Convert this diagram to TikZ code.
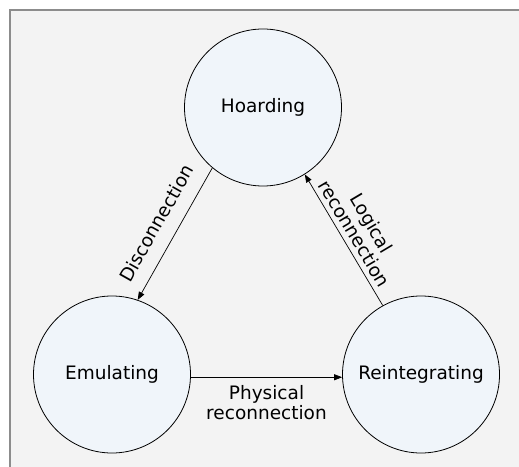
\documentclass[tikz,border=0pt]{standalone}
\usepackage{fontspec}
\setmainfont{DejaVu Sans}
\usetikzlibrary{arrows.meta}
\definecolor{framegray}{HTML}{8C8C8C}
\definecolor{panel}{HTML}{F3F3F3}
\definecolor{statefill}{HTML}{F0F5FA}
\begin{document}
\begin{tikzpicture}[x=1pt,y=1pt,
	state/.style={draw=black, line width=0.8pt, circle, fill=statefill, minimum size=157pt, inner sep=0pt, font=\fontsize{18.5pt}{20pt}\selectfont},
	link/.style={line width=0.7pt, -{Triangle[length=8pt,width=6pt]}},
	lbl/.style={font=\fontsize{18.5pt}{20pt}\selectfont, align=center, inner sep=3pt}]
	\useasboundingbox (0,0) rectangle (519,466);
	\clip (0,0) rectangle (519,466);
	\fill[white] (0,0) rectangle (519,466);
	\draw[framegray, line width=2pt, fill=panel] (10,-10) rectangle (530,456);
	\node[state] (hoard) at (263,358.5) {Hoarding};
	\node[state] (emul) at (112,91.5) {Emulating};
	\node[state] (reint) at (421,91.5) {Reintegrating};
	\draw[link] (hoard.230) -- (emul.71) node[lbl, midway, sloped, above=11pt] {Disconnection};
	\draw[link] (reint.119) -- (hoard.302) node[lbl, midway, sloped, above=2pt] {Logical\\reconnection};
	\draw[link] (emul.-2) -- (reint.182) node[lbl, midway, below=4.5pt] {Physical\\reconnection};
\end{tikzpicture}
\end{document}
